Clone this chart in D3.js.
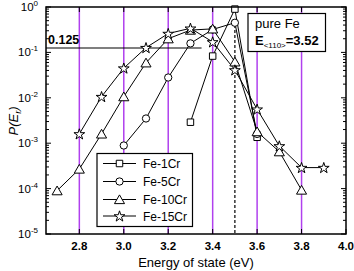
<!DOCTYPE html>
<html><head><meta charset="utf-8">
<script src="https://cdn.jsdelivr.net/npm/d3@7"></script>
<style>body{margin:0;background:#fff}svg{display:block}text{font-family:"Liberation Sans",Arial,sans-serif}</style>
</head><body>
<div id="chart"></div>
<script>
const seriesNames = ["Fe-1Cr","Fe-5Cr","Fe-10Cr","Fe-15Cr"];
const fe1crE = [3.3,3.4,3.5,3.6];
const fe1crP = [2.9e-3,0.083,0.9,1.35e-3];
const fe5crE = [3.0,3.1,3.2,3.3,3.4,3.5,3.6];
const fe5crP = [8.9e-4,3.5e-3,0.028,0.158,0.32,0.45,1.6e-3];
const fe10crE = [2.7,2.8,2.9,3.0,3.1,3.2,3.3,3.4,3.5,3.6,3.7,3.8];
const fe10crP = [9e-5,2.7e-4,1.6e-3,0.0106,0.059,0.2,0.31,0.33,0.062,1.8e-3,6.5e-4,9.3e-5];
const fe15crE = [2.8,2.9,3.0,3.1,3.2,3.3,3.4,3.5,3.6,3.7,3.8,3.9];
const fe15crP = [1.6e-3,0.0106,0.045,0.127,0.26,0.34,0.17,0.041,5.6e-3,8.7e-4,2.9e-4,2.9e-4];
const markerTypes = ["square","circle","triangle","star"];
const xTicks = [2.8,3.0,3.2,3.4,3.6,3.8,4.0];
const yTickExps = [0,-1,-2,-3,-4,-5];
const guideE = [2.8,3.0,3.2,3.4,3.6,3.8];
const refLevel = 0.125;
const peakE = 3.5;

const W=354,H=271;
const svg=d3.select("#chart").append("svg").attr("width",W).attr("height",H);
const x=d3.scaleLinear().domain([2.65,4.0]).range([46,346]);
const y=d3.scaleLog().domain([1e-5,1]).range([234,7]);

svg.append("g").selectAll("line").data(guideE).join("line")
 .attr("x1",d=>x(d)).attr("x2",d=>x(d)).attr("y1",y(1)).attr("y2",y(1e-5))
 .attr("stroke","#b040ee").attr("stroke-width",1.5);

svg.append("line").attr("x1",x(2.65)).attr("x2",x(3.35)).attr("y1",y(refLevel)).attr("y2",y(refLevel))
 .attr("stroke","#000").attr("stroke-width",1.2);
svg.append("text").attr("x",48).attr("y",y(refLevel)-4).attr("font-size",12.5).attr("font-weight","bold").text(String(refLevel));

svg.append("line").attr("x1",x(peakE)).attr("x2",x(peakE)).attr("y1",y(0.4)).attr("y2",y(1e-5))
 .attr("stroke","#000").attr("stroke-width",1.2).attr("stroke-dasharray","3,2");

const series=[[fe1crE,fe1crP],[fe5crE,fe5crP],[fe10crE,fe10crP],[fe15crE,fe15crP]].map((s,i)=>({
  name:seriesNames[i],type:markerTypes[i],pts:s[0].map((e,j)=>[e,s[1][j]])}));

const line=d3.line().x(d=>x(d[0])).y(d=>y(d[1]));
const symMap={square:d3.symbolSquare,circle:d3.symbolCircle,triangle:d3.symbolTriangle,star:d3.symbolStar};
const symSize={square:42,circle:42,triangle:44,star:36};
function sym(t){return d3.symbol().type(symMap[t]).size(symSize[t])();}
function symOffset(t){return t==="triangle"?1.2:(t==="star"?0.5:0);}

series.forEach(s=>{
  svg.append("path").attr("d",line(s.pts)).attr("fill","none").attr("stroke","#000").attr("stroke-width",1);
});
series.forEach(s=>{
  svg.append("g").selectAll("path").data(s.pts).join("path")
   .attr("d",sym(s.type)).attr("transform",d=>`translate(${x(d[0])},${y(d[1])+symOffset(s.type)})`)
   .attr("fill","#fff").attr("stroke","#000").attr("stroke-width",1);
});

svg.append("rect").attr("x",46).attr("y",7).attr("width",300).attr("height",227)
 .attr("fill","none").attr("stroke","#000").attr("stroke-width",1.5);

const gT=svg.append("g").attr("stroke","#000").attr("stroke-width",1);
yTickExps.forEach(e=>{
  const v=Math.pow(10,e);
  gT.append("line").attr("x1",46).attr("x2",51).attr("y1",y(v)).attr("y2",y(v));
  gT.append("line").attr("x1",346).attr("x2",341).attr("y1",y(v)).attr("y2",y(v));
  if(e>-5){for(let k=2;k<10;k++){const vv=v/10*k;
    gT.append("line").attr("x1",46).attr("x2",49).attr("y1",y(vv)).attr("y2",y(vv));
    gT.append("line").attr("x1",346).attr("x2",343).attr("y1",y(vv)).attr("y2",y(vv));}}
});
xTicks.forEach(t=>{
  gT.append("line").attr("x1",x(t)).attr("x2",x(t)).attr("y1",234).attr("y2",229);
  gT.append("line").attr("x1",x(t)).attr("x2",x(t)).attr("y1",7).attr("y2",12);
});
yTickExps.forEach(e=>{
  const t=svg.append("text").attr("x",38).attr("y",y(Math.pow(10,e))+4).attr("text-anchor","end").attr("font-size",11.5);
  t.append("tspan").text("10");
  t.append("tspan").attr("dy",-5).attr("font-size",8).text(e===0?"0":"-"+(-e));
});
svg.append("g").selectAll("text").data(xTicks).join("text")
 .attr("x",d=>x(d)).attr("y",250).attr("text-anchor","middle").attr("font-size",11.5).attr("font-weight","bold")
 .text(d=>d.toFixed(1));
svg.append("text").attr("x",196).attr("y",267).attr("text-anchor","middle").attr("font-size",13).text("Energy of state (eV)");
const yl=svg.append("text").attr("transform","translate(18,121) rotate(-90)").attr("text-anchor","middle").attr("font-size",13).attr("font-style","italic");
yl.append("tspan").text("P(E");
yl.append("tspan").attr("font-size",9).attr("dy",3).text("r");
yl.append("tspan").attr("dy",-3).text(")");

svg.append("rect").attr("x",97).attr("y",153.5).attr("width",95.5).attr("height",73).attr("fill","#fff").attr("stroke","#000").attr("stroke-width",1.2);
const ly=[163.5,181.5,199.5,216];
series.forEach((s,i)=>{
  svg.append("line").attr("x1",103).attr("x2",136).attr("y1",ly[i]).attr("y2",ly[i]).attr("stroke","#000");
  svg.append("path").attr("d",sym(s.type)).attr("transform",`translate(119.5,${ly[i]+symOffset(s.type)})`).attr("fill","#fff").attr("stroke","#000");
  svg.append("text").attr("x",143).attr("y",ly[i]+4.5).attr("font-size",12).text(s.name);
});

svg.append("rect").attr("x",248).attr("y",13.5).attr("width",77.5).attr("height",38).attr("fill","#fff").attr("stroke","#000").attr("stroke-width",1.2);
svg.append("text").attr("x",255).attr("y",28).attr("font-size",13).text("pure Fe");
const it=svg.append("text").attr("x",255).attr("y",45).attr("font-size",13).attr("font-weight","bold");
it.append("tspan").text("E");
it.append("tspan").attr("font-size",8).attr("dy",3).attr("font-weight","normal").text("<110>");
it.append("tspan").attr("dy",-3).text("=3.52");
</script>
</body></html>
